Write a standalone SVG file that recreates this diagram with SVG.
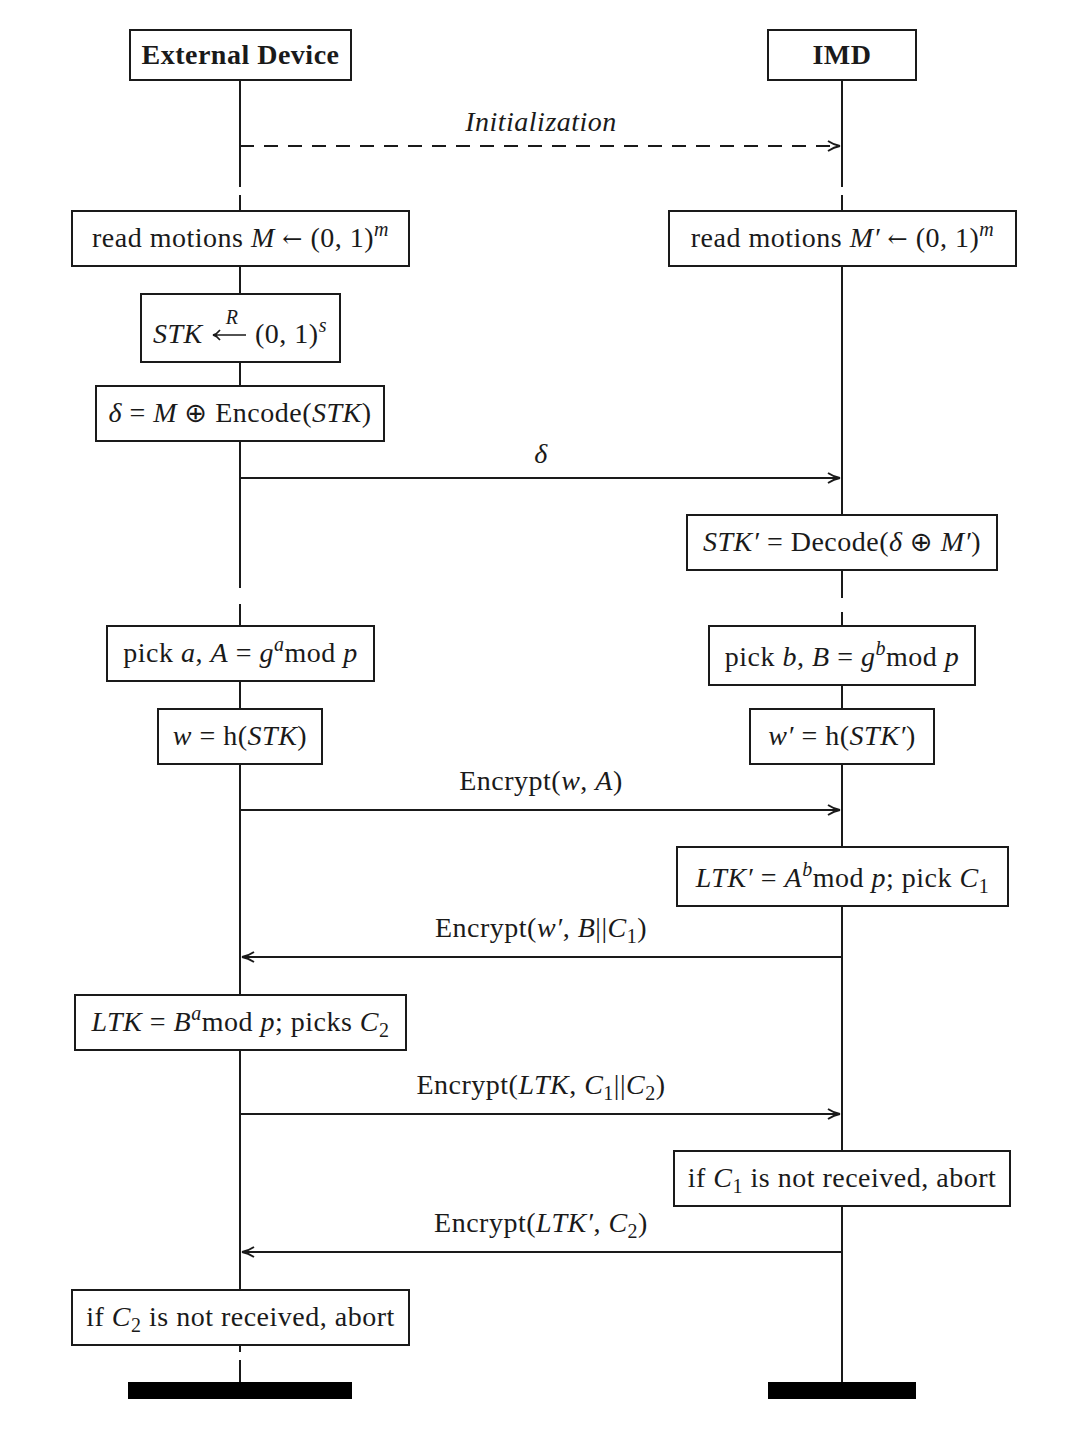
<svg xmlns="http://www.w3.org/2000/svg" width="1088" height="1439" viewBox="0 0 1088 1439">
<style>
  .box { fill: #fff; stroke: #1a1a1a; stroke-width: 2; }
  .life { stroke: #1a1a1a; stroke-width: 2; fill: none; }
  .msg { stroke: #1a1a1a; stroke-width: 2; fill: none; }
  .dash { stroke-dasharray: 14 10; }
  text { font-family: "Liberation Serif", "DejaVu Serif", serif; font-size: 28px; letter-spacing: 0.5px; fill: #1a1a1a; text-anchor: middle; }
  .b { font-weight: bold; }
  .i { font-style: italic; }
  .sm { font-size: 20px; }
  .sym { font-family: "DejaVu Serif", serif; font-size: 24px; }
  .op { font-family: "DejaVu Sans", sans-serif; font-size: 27px; }
  .st { text-anchor: start; }
  .end { fill: #000; }
</style>
<defs>
  <marker id="ah" viewBox="0 0 14 14" refX="13" refY="7" markerWidth="14" markerHeight="14" markerUnits="userSpaceOnUse" orient="auto">
    <path d="M1,2 Q7,6 13,7 Q7,8 1,12" fill="none" stroke="#1a1a1a" stroke-width="1.8"/>
  </marker>
</defs>
<rect width="1088" height="1439" fill="#fff"/>

<g id="lifelines">
  <path class="life" d="M240,80 V187 M240,195 V588 M240,604 V1352 M240,1360 V1382"/>
  <path class="life" d="M842,80 V187 M842,195 V598 M842,612 V1382"/>
</g>

<g id="connectors">
  <line class="msg dash" x1="240" y1="146" x2="840" y2="146" marker-end="url(#ah)"/>
  <text class="i" x="541" y="131">Initialization</text>
  <line class="msg" x1="240" y1="478" x2="840" y2="478" marker-end="url(#ah)"/>
  <text class="i" x="541" y="463">δ</text>
  <line class="msg" x1="240" y1="810" x2="840" y2="810" marker-end="url(#ah)"/>
  <text x="541" y="790">Encrypt(<tspan class="i">w</tspan>, <tspan class="i">A</tspan>)</text>
  <line class="msg" x1="842" y1="957" x2="242" y2="957" marker-end="url(#ah)"/>
  <text x="541" y="937">Encrypt(<tspan class="i">w′</tspan>, <tspan class="i">B</tspan>||<tspan class="i">C</tspan><tspan class="sm" dy="6">1</tspan><tspan dy="-6">)</tspan></text>
  <line class="msg" x1="240" y1="1114" x2="840" y2="1114" marker-end="url(#ah)"/>
  <text x="541" y="1094">Encrypt(<tspan class="i">LTK</tspan>, <tspan class="i">C</tspan><tspan class="sm" dy="6">1</tspan><tspan dy="-6">||</tspan><tspan class="i">C</tspan><tspan class="sm" dy="6">2</tspan><tspan dy="-6">)</tspan></text>
  <line class="msg" x1="842" y1="1252" x2="242" y2="1252" marker-end="url(#ah)"/>
  <text x="541" y="1232">Encrypt(<tspan class="i">LTK′</tspan>, <tspan class="i">C</tspan><tspan class="sm" dy="6">2</tspan><tspan dy="-6">)</tspan></text>
</g>

<g id="ext-device">
  <rect class="box" x="130" y="30" width="221" height="50"/>
  <text class="b" x="240.5" y="64">External Device</text>
</g>
<g id="imd">
  <rect class="box" x="768" y="30" width="148" height="50"/>
  <text class="b" x="842" y="64">IMD</text>
</g>

<g id="read-left">
  <rect class="box" x="72" y="211" width="337" height="55"/>
  <text x="240.5" y="247">read motions <tspan class="i">M</tspan> <tspan class="sym">←</tspan> (0, 1)<tspan class="i sm" dy="-11">m</tspan></text>
</g>
<g id="read-right">
  <rect class="box" x="669" y="211" width="347" height="55"/>
  <text x="842.5" y="247">read motions <tspan class="i">M′</tspan> <tspan class="sym">←</tspan> (0, 1)<tspan class="i sm" dy="-11">m</tspan></text>
</g>

<g id="stk">
  <rect class="box" x="141" y="294" width="199" height="68"/>
  <text class="i st" x="153" y="343">STK</text>
  <path d="M246,335 H214 M220,330 Q217,334 213,335 Q217,336 220,340" fill="none" stroke="#1a1a1a" stroke-width="1.6"/>
  <text class="i sm" x="232" y="324">R</text>
  <text class="st" x="255" y="343">(0, 1)<tspan class="i sm" dy="-11">s</tspan></text>
</g>

<g id="delta">
  <rect class="box" x="96" y="386" width="288" height="55"/>
  <text x="240" y="422"><tspan class="i">δ</tspan> = <tspan class="i">M</tspan> <tspan class="op">⊕</tspan> Encode(<tspan class="i">STK</tspan>)</text>
</g>

<g id="stk-prime">
  <rect class="box" x="687" y="515" width="310" height="55"/>
  <text x="842" y="551"><tspan class="i">STK′</tspan> = Decode(<tspan class="i">δ</tspan> <tspan class="op">⊕</tspan> <tspan class="i">M′</tspan>)</text>
</g>

<g id="pick-a">
  <rect class="box" x="107" y="626" width="267" height="55"/>
  <text x="240.5" y="662">pick <tspan class="i">a</tspan>, <tspan class="i">A</tspan> = <tspan class="i">g</tspan><tspan class="i sm" dy="-11">a</tspan><tspan dy="11">mod </tspan><tspan class="i">p</tspan></text>
</g>
<g id="pick-b">
  <rect class="box" x="709" y="626" width="266" height="59"/>
  <text x="842" y="666">pick <tspan class="i">b</tspan>, <tspan class="i">B</tspan> = <tspan class="i">g</tspan><tspan class="i sm" dy="-11">b</tspan><tspan dy="11">mod </tspan><tspan class="i">p</tspan></text>
</g>

<g id="w-left">
  <rect class="box" x="158" y="709" width="164" height="55"/>
  <text x="240" y="745"><tspan class="i">w</tspan> = h(<tspan class="i">STK</tspan>)</text>
</g>
<g id="w-right">
  <rect class="box" x="750" y="709" width="184" height="55"/>
  <text x="842" y="745"><tspan class="i">w′</tspan> = h(<tspan class="i">STK′</tspan>)</text>
</g>

<g id="ltk-prime">
  <rect class="box" x="677" y="847" width="331" height="59"/>
  <text x="842.5" y="887"><tspan class="i">LTK′</tspan> = <tspan class="i">A</tspan><tspan class="i sm" dy="-11">b</tspan><tspan dy="11">mod </tspan><tspan class="i">p</tspan>; pick <tspan class="i">C</tspan><tspan class="sm" dy="6">1</tspan></text>
</g>

<g id="ltk">
  <rect class="box" x="75" y="995" width="331" height="55"/>
  <text x="240.5" y="1031"><tspan class="i">LTK</tspan> = <tspan class="i">B</tspan><tspan class="i sm" dy="-11">a</tspan><tspan dy="11">mod </tspan><tspan class="i">p</tspan>; picks <tspan class="i">C</tspan><tspan class="sm" dy="6">2</tspan></text>
</g>

<g id="abort-c1">
  <rect class="box" x="674" y="1151" width="336" height="55"/>
  <text x="842" y="1187">if <tspan class="i">C</tspan><tspan class="sm" dy="6">1</tspan><tspan dy="-6"> is not received, abort</tspan></text>
</g>

<g id="abort-c2">
  <rect class="box" x="72" y="1290" width="337" height="55"/>
  <text x="240.5" y="1326">if <tspan class="i">C</tspan><tspan class="sm" dy="6">2</tspan><tspan dy="-6"> is not received, abort</tspan></text>
</g>

<g id="end-left"><rect class="end" x="128" y="1382" width="224" height="17"/></g>
<g id="end-right"><rect class="end" x="768" y="1382" width="148" height="17"/></g>
</svg>
